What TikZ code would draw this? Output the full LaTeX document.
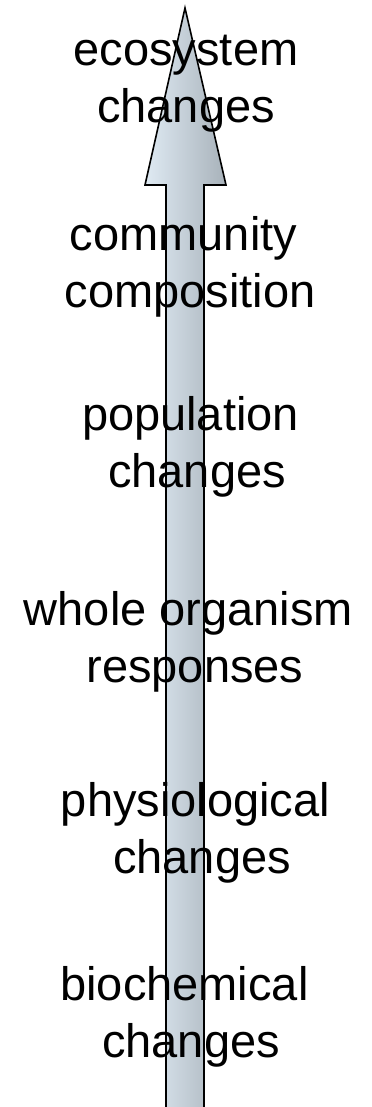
\documentclass[tikz,border=0pt]{standalone}
\usepackage{fontspec}
\setmainfont{Liberation Sans}
\usetikzlibrary{positioning}
\definecolor{arrowleft}{RGB}{223,234,243}
\definecolor{arrowright}{RGB}{168,178,186}
\newcommand{\tsp}{\hspace*{0.278em}}

\begin{document}
\begin{tikzpicture}[x=0.5pt, y=-0.5pt,
  level/.style={align=center, anchor=base, inner sep=0pt, font=\fontsize{23.5}{28.5}\selectfont},
  bigarrow/.style={draw=black, line width=0.8pt, left color=arrowleft, right color=arrowright}
]
\useasboundingbox (0,0) rectangle (371,1107);

% upward arrow, cut off at the bottom edge
\begin{scope}
\clip (0,0) rectangle (371,1107);
\path[bigarrow] (185,8) -- (226,185) -- (204,185) -- (204,1120)
  -- (166,1120) -- (166,185) -- (145,185) -- cycle;
\end{scope}

% levels of response, bottom to top (base = last line)
\node[level] (bio)   at (191,1057) {biochemical\tsp\\changes};
\node[level] (phys)  at (202,873)  {physiological\tsp\\changes};
\node[level] (whole) at (195,682)  {whole organism\tsp\\responses};
\node[level] (pop)   at (197,487)  {population\tsp\\changes};
\node[level] (comm)  at (190,307)  {community\tsp\\composition};
\node[level] (eco)   at (186,123)  {ecosystem\\changes};
\end{tikzpicture}
\end{document}
